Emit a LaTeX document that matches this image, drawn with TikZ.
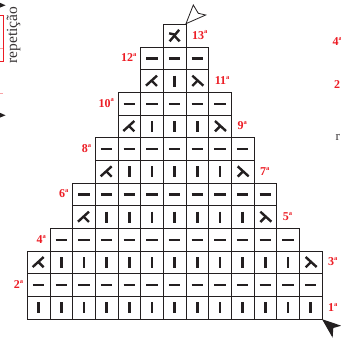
\documentclass[tikz,border=0pt]{standalone}
\usepackage{fontspec}
\setmainfont{Liberation Serif}
\definecolor{lblred}{HTML}{ED1C24}
\definecolor{ink}{HTML}{231F20}
\newcommand\ordA{\raisebox{0.42em}{\fontsize{6.5}{6.5}\selectfont a}}
\tikzset{
  cell/.style={draw=ink, line width=0.8pt, minimum size=22.67pt, inner sep=0pt, outer sep=0pt},
  sym/.style={draw=ink, line width=2.4pt, line cap=butt},
  lbl/.style={text=lblred, font=\bfseries\fontsize{12}{12}\selectfont, inner sep=0pt},
  ldec/.pic={\draw[sym] (5,-5.5) -- (-6,4.5); \draw[sym] (-0.4,-0.6) -- (5,4.8);},
  rdec/.pic={\draw[sym] (-5,-5.5) -- (6,4.5); \draw[sym] (0.4,-0.6) -- (-5,4.8);},
  cdec/.pic={\draw[sym] (4.5,-6) -- (-5,5.5); \draw[sym] (-0.2,0) -- (5,5.5); \draw[sym] (-5.5,-2.5) -- (0.5,-1.2);},
}
\begin{document}
\begin{tikzpicture}[x=1pt,y=-1pt]
\useasboundingbox (0,0) rectangle (341,338);
\fill[white] (0,0) rectangle (341,338);
\clip (0,0) rectangle (341,338);
% cells
\foreach \r/\a/\b in {1/0/12,2/0/12,3/0/12,4/1/11,5/2/10,6/2/10,7/3/9,8/3/9,9/4/8,10/4/8,11/5/7,12/5/7,13/6/6}
  \foreach \k in {\a,...,\b}
    \node[cell] (c-\r-\k) at ({27.3+(\k+0.5)*22.67},{319.2-(\r-0.5)*22.67}) {};
% purl rows
\foreach \r/\a/\b in {2/0/12,4/1/11,6/2/10,8/3/9,10/4/8,12/5/7}
  \foreach \k in {\a,...,\b}
    \draw[sym] ([shift={(-5.8,0)}]c-\r-\k.center) -- ([shift={(5.8,0)}]c-\r-\k.center);
% knit stitches
\foreach \r/\a/\b in {1/0/12,3/1/11,5/3/9,7/4/8,9/5/7,11/6/6}
  \foreach \k in {\a,...,\b}
    \draw[sym] ([shift={(0,-5.5)}]c-\r-\k.center) -- ([shift={(0,5.5)}]c-\r-\k.center);
% decreases
\foreach \r/\a/\b in {3/0/12,5/2/10,7/3/9,9/4/8,11/5/7}{
  \pic at (c-\r-\a.center) {ldec};
  \pic at (c-\r-\b.center) {rdec};
}
\pic at (c-13-6.center) {cdec};
% row labels, odd on the right
\foreach \r/\b in {1/12,3/12,5/10,7/9,9/8,11/7,13/6}
  \node[lbl, anchor=west] (l\r) at ([shift={(6,-0.8)}]c-\r-\b.east) {\r\ordA};
% even on the left
\foreach \r/\a in {2/0,4/1,6/2,8/3,10/4,12/5}
  \node[lbl, anchor=east] (l\r) at ([shift={(-4,-0.8)}]c-\r-\a.west) {\r\ordA};
% start arrows
\coordinate (ttip) at (c-13-6.north east);
\draw[ink, line width=0.8pt, fill=white, line join=miter, shift={(ttip)}]
  (0,-0.8) -- (7.3,-19.5) -- (12.3,-11.2) -- (19.7,-9.5) -- cycle;
\coordinate (btip) at (c-1-12.south east);
\fill[ink, shift={(btip)}] (0,0) -- (10.6,18.5) -- (11.3,8.8) -- (19.3,6.5) -- cycle;
% fragments of neighbouring chart
\node[rotate=90, font=\fontsize{15.5}{15.5}\selectfont, text=ink!90, inner sep=0pt] (rep) at (13.5,35) {repetição};
\draw[lblred, line width=0.7pt] (0,15) -- (3.5,15) -- (3.5,61) -- (0,61);
\fill[ink] (0,2.8) -- (5.5,5.3) -- (0,7.6) -- cycle;
\fill[ink] (0,112.8) -- (5.5,115.3) -- (0,117.6) -- cycle;
\draw[lblred!40, line width=1pt] (0,48) -- (2.5,48);
\draw[lblred!40, line width=1pt] (0,93) -- (2.5,93);
\node[lbl, anchor=west] (f4) at (332.5,41) {4\ordA};
\node[lbl, anchor=west] (f2) at (334,85) {2};
\node[anchor=base west, inner sep=0pt, font=\fontsize{13}{13}\selectfont, text=ink!90] (fr) at (335.5,140) {r};
\end{tikzpicture}
\end{document}
